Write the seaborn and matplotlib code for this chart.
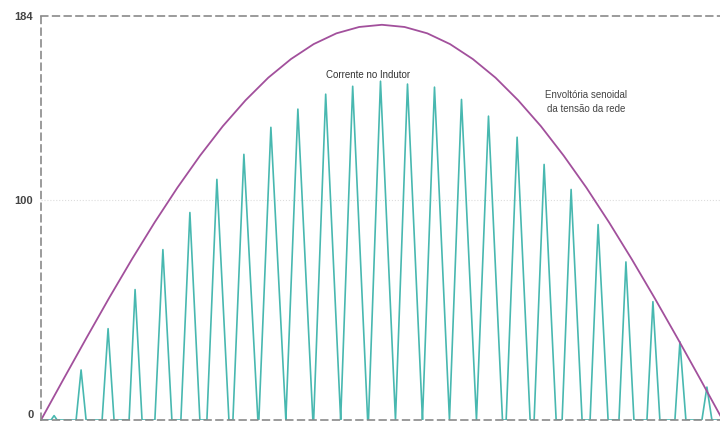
import numpy as np
import pandas as pd
import matplotlib
matplotlib.use("Agg")
import matplotlib.pyplot as plt
import seaborn as sns

sns.set_style("white")
plt.rcParams['font.family'] = ['Liberation Sans', 'DejaVu Sans']

# envelope of the line voltage, time in ms
env_t = [0.0, 0.278, 0.556, 0.833, 1.111, 1.389, 1.667, 1.944, 2.222, 2.5, 2.778,
         3.056, 3.333, 3.611, 3.889, 4.167, 4.444, 4.722, 5.0, 5.278, 5.556,
         5.833, 6.111, 6.389, 6.667, 6.944, 7.222, 7.5, 7.778, 8.056, 8.333]
env_v = [0, 18.8, 37.4, 55.6, 73.2, 90, 105.8, 120.4, 133.8, 145.6, 155.9,
         164.4, 171.2, 176.1, 179.0, 180, 179.0, 176.1, 171.2, 164.4, 155.9,
         145.6, 133.8, 120.4, 105.8, 90, 73.2, 55.6, 37.4, 18.8, 0]

# inductor current pulses: peak time (ms), peak value, rise and fall time (ms)
peak_t = [0.16, 0.49, 0.82, 1.15, 1.49, 1.82, 2.15, 2.48, 2.81, 3.14, 3.48, 3.81, 4.15,
          4.48, 4.81, 5.14, 5.47, 5.82, 6.15, 6.48, 6.81, 7.15, 7.48, 7.81, 8.14]
peak_v = [2, 22.8, 41.6, 59.4, 77.6, 94.5, 109.6, 121, 133.3, 141.6, 148.4, 152, 154.3,
          153, 151.6, 146, 138.4, 128.8, 116.4, 105, 89, 72, 53.9, 35.6, 15]
rise_t = [0.037, 0.061, 0.073, 0.073, 0.098, 0.11, 0.122, 0.134, 0.147, 0.147, 0.147, 0.147, 0.147,
          0.147, 0.147, 0.147, 0.147, 0.134, 0.122, 0.11, 0.098, 0.085, 0.073, 0.061, 0.061]
fall_t = [0.037, 0.061, 0.073, 0.085, 0.11, 0.122, 0.147, 0.171, 0.183, 0.183, 0.183, 0.183, 0.183,
          0.183, 0.183, 0.183, 0.171, 0.159, 0.147, 0.134, 0.122, 0.098, 0.085, 0.073, 0.061]

t_end = 8.30
ytick_vals = [0, 100, 184]
ytick_labels = ["0", "100", "184"]

# build the current waveform from the pulse table
cur_t = [0.0]
cur_v = [0.0]
for tp, vp, tr, tf in zip(peak_t, peak_v, rise_t, fall_t):
    cur_t += [tp - tr, tp, tp + tf]
    cur_v += [0.0, vp, 0.0]
cur_t.append(t_end)
cur_v.append(0.0)

df_env = pd.DataFrame({"t": env_t, "v": env_v})
df_cur = pd.DataFrame({"t": cur_t, "i": cur_v})

fig = plt.figure(figsize=(7.2, 4.22), dpi=100)
ax = fig.add_axes([41 / 720, 2 / 422, 1 - 41 / 720, 404 / 422])

sns.lineplot(data=df_cur, x="t", y="i", ax=ax, color="#48b8b0", linewidth=1.2,
             estimator=None, sort=False)
sns.lineplot(data=df_env, x="t", y="v", ax=ax, color="#a2509c", linewidth=1.3,
             estimator=None, sort=False)

ax.set_xlim(0, t_end)
ax.set_ylim(0, 184)
ax.set_xlabel("")
ax.set_ylabel("")
ax.set_xticks([])
ax.set_yticks(ytick_vals)
ax.set_yticklabels(ytick_labels, fontsize=8, fontweight='bold', color='#444')
ax.tick_params(axis='y', direction='inout', length=7, width=1, color='#888', pad=2)
# keep the "0" label inside the figure
ax.get_yticklabels()[0].set_verticalalignment('bottom')

for side in ['left', 'top', 'bottom']:
    ax.spines[side].set_linestyle((0, (4, 3)))
    ax.spines[side].set_color('#8a8a8a')
    ax.spines[side].set_linewidth(1.2)
ax.spines['right'].set_visible(False)

ax.axhline(100, color='#dddddd', linestyle=':', linewidth=0.8, zorder=0)

ax.text(4.0, 157, "Corrente no Indutor", fontsize=7, color='#333', ha='center', va='center')
ax.text(6.66, 145, "Envoltória senoidal\nda tensão da rede", fontsize=7, color='#444',
        ha='center', va='center', linespacing=1.5)

plt.savefig("out.png", dpi=100)
plt.close()
